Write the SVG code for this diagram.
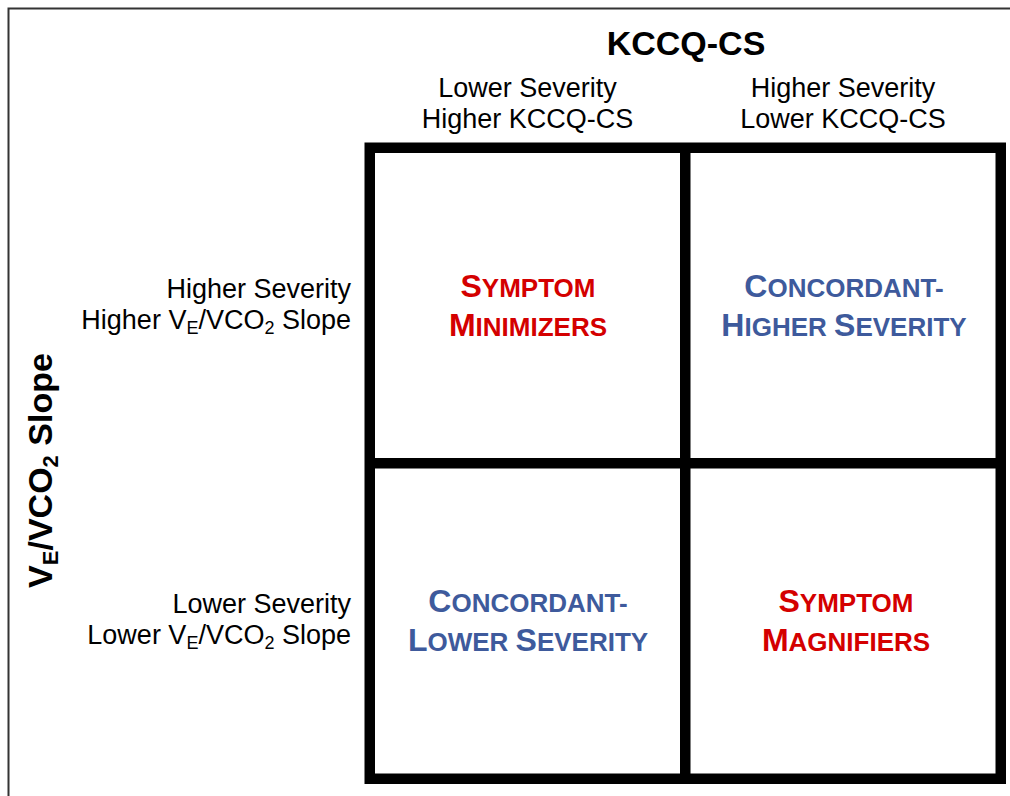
<svg xmlns="http://www.w3.org/2000/svg" width="1010" height="796" viewBox="0 0 1010 796">
<style>
  text { font-family: "Liberation Sans", Arial, sans-serif; fill: #000; }
  .axis { font-size: 34px; font-weight: bold; }
  .hdr { font-size: 27px; text-anchor: middle; }
  .row { font-size: 27px; text-anchor: end; }
  .sub { font-size: 18px; }
  .q { font-weight: bold; text-anchor: middle; font-size: 26px; }
  .big { font-size: 32px; }
  .red { fill: #d40000; }
  .blue { fill: #3e5a9c; }
  .frame { fill: none; stroke: #333; stroke-width: 2; }
  .thick { fill: none; stroke: #000; stroke-width: 10.5; }
</style>
<rect x="0" y="0" width="1010" height="796" fill="#fff"/>
<path class="frame" d="M8.5,796 V8.5 H1010"/>

<g id="axis-x">
  <text class="axis" x="686" y="55" text-anchor="middle">KCCQ-CS</text>
</g>
<g id="col-1-header">
  <text class="hdr" x="527.5" y="97">Lower Severity</text>
  <text class="hdr" x="527.5" y="128">Higher KCCQ-CS</text>
</g>
<g id="col-2-header">
  <text class="hdr" x="843" y="97">Higher Severity</text>
  <text class="hdr" x="843" y="128">Lower KCCQ-CS</text>
</g>

<g id="axis-y">
  <text class="axis" transform="translate(52,470.5) rotate(-90)" x="0" y="0" text-anchor="middle">V<tspan class="sub" style="font-size:22px" dy="6">E</tspan><tspan dy="-6">/VCO</tspan><tspan style="font-size:22px" dy="6">2</tspan><tspan dy="-6"> Slope</tspan></text>
</g>
<g id="row-1-header">
  <text class="row" x="351" y="298">Higher Severity</text>
  <text class="row" x="351" y="329">Higher V<tspan class="sub" dy="5">E</tspan><tspan dy="-5">/VCO</tspan><tspan class="sub" dy="5">2</tspan><tspan dy="-5"> Slope</tspan></text>
</g>
<g id="row-2-header">
  <text class="row" x="351" y="613">Lower Severity</text>
  <text class="row" x="351" y="644">Lower V<tspan class="sub" dy="5">E</tspan><tspan dy="-5">/VCO</tspan><tspan class="sub" dy="5">2</tspan><tspan dy="-5"> Slope</tspan></text>
</g>

<g id="grid">
  <rect class="thick" x="369.75" y="147.75" width="631" height="631"/>
  <line class="thick" x1="685.25" y1="147.75" x2="685.25" y2="778.75"/>
  <line class="thick" x1="369.75" y1="463.25" x2="1000.75" y2="463.25"/>
</g>

<g id="symptom-minimizers">
  <text class="q red" x="528" y="297"><tspan class="big">S</tspan>YMPTOM</text>
  <text class="q red" x="528" y="336"><tspan class="big">M</tspan>INIMIZERS</text>
</g>
<g id="concordant-higher-severity">
  <text class="q blue" x="844" y="297"><tspan class="big">C</tspan>ONCORDANT-</text>
  <text class="q blue" x="844" y="336"><tspan class="big">H</tspan>IGHER <tspan class="big">S</tspan>EVERITY</text>
</g>
<g id="concordant-lower-severity">
  <text class="q blue" x="528" y="612"><tspan class="big">C</tspan>ONCORDANT-</text>
  <text class="q blue" x="528" y="651"><tspan class="big">L</tspan>OWER <tspan class="big">S</tspan>EVERITY</text>
</g>
<g id="symptom-magnifiers">
  <text class="q red" x="846" y="612"><tspan class="big">S</tspan>YMPTOM</text>
  <text class="q red" x="846" y="651"><tspan class="big">M</tspan>AGNIFIERS</text>
</g>
</svg>
